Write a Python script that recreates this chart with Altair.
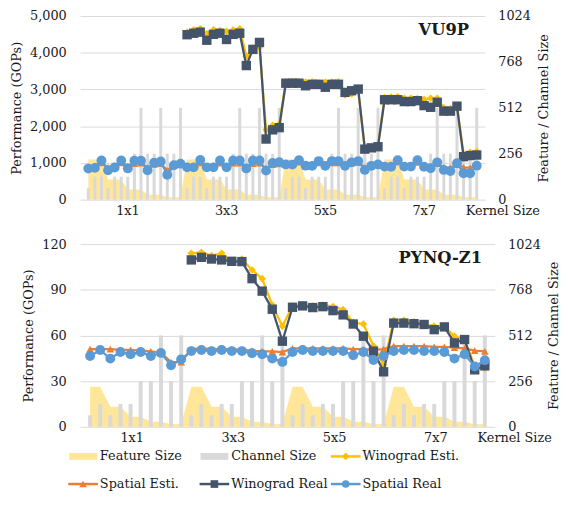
import altair as alt
import pandas as pd

kernel_labels = ["1x1", "3x3", "5x5", "7x7"]

# ---------------- VU9P (15 layers per kernel size) ----------------
vu9p_feature = [224, 224, 224, 112, 112, 112, 56, 56, 56, 28, 28, 28, 14, 14, 14,
                224, 224, 224, 112, 112, 112, 56, 56, 56, 28, 28, 28, 14, 14, 14,
                224, 224, 224, 112, 112, 112, 56, 56, 56, 28, 28, 28, 14, 14, 14,
                224, 224, 224, 112, 112, 112, 56, 56, 56, 28, 28, 28, 14, 14, 14]
vu9p_channel = [64, 128, 128, 64, 128, 128, 128, 256, 512, 256, 256, 512, 256, 256, 512,
                64, 128, 128, 64, 128, 128, 128, 256, 512, 256, 256, 512, 256, 256, 512,
                64, 128, 128, 64, 128, 128, 128, 256, 512, 256, 256, 512, 256, 256, 512,
                64, 128, 128, 64, 128, 128, 128, 256, 512, 256, 256, 512, 256, 256, 512]
vu9p_w_esti = [None, None, None, None, None, None, None, None, None, None, None, None, None, None, None,
               4560, 4620, 4650, 4520, 4620, 4600, 4580, 4620, 4650, 3900, 4130, 4150, 1900, 2020, 2060,
               3200, 3220, 3210, 3200, 3210, 3180, 3200, 3200, 3210, 2850, 2880, 2950, 1400, 1450, 1470,
               2780, 2790, 2800, 2760, 2760, 2750, 2730, 2760, 2760, 2500, 2480, 2520, 1250, 1290, 1310]
vu9p_s_esti = [900, 920, 1000, 880, 930, 1000, 920, 980, 990, 880, 960, 980, 800, 940, 960,
               920, 930, 1000, 920, 930, 990, 930, 990, 990, 900, 980, 990, 860, 950, 970,
               950, 950, 1020, 940, 940, 1000, 940, 1000, 1000, 930, 990, 1010, 880, 930, 960,
               920, 920, 1020, 920, 920, 1010, 920, 900, 980, 880, 870, 960, 880, 870, 920]
vu9p_w_real = [None, None, None, None, None, None, None, None, None, None, None, None, None, None, None,
               4490, 4530, 4560, 4340, 4500, 4530, 4360, 4500, 4530, 3650, 4090, 4280, 1650, 1900, 1960,
               3170, 3170, 3170, 3100, 3140, 3140, 3060, 3140, 3140, 2920, 2965, 3010, 1375, 1410, 1440,
               2720, 2720, 2720, 2670, 2670, 2695, 2560, 2515, 2650, 2410, 2410, 2545, 1170, 1200, 1215]
vu9p_s_real = [845, 865, 1065, 800, 875, 1065, 850, 1060, 1060, 800, 1005, 1040, 675, 935, 980,
               880, 880, 1080, 880, 880, 1065, 880, 1065, 1065, 850, 1065, 1065, 790, 1000, 1020,
               960, 955, 1075, 925, 920, 1050, 920, 1050, 1050, 920, 1015, 1050, 810, 920, 960,
               900, 895, 1075, 900, 900, 1075, 895, 855, 1015, 810, 780, 990, 720, 720, 925]

# ---------------- PYNQ-Z1 (10 layers per kernel size) ----------------
pynq_feature = [224, 224, 112, 112, 56, 56, 28, 28, 14, 14,
                224, 224, 112, 112, 56, 56, 28, 28, 14, 14,
                224, 224, 112, 112, 56, 56, 28, 28, 14, 14,
                224, 224, 112, 112, 56, 56, 28, 28, 14, 14]
pynq_channel = [64, 128, 64, 128, 128, 256, 256, 512, 256, 512,
                64, 128, 64, 128, 128, 256, 256, 512, 256, 512,
                64, 128, 64, 128, 128, 256, 256, 512, 256, 512,
                64, 128, 64, 128, 128, 256, 256, 512, 256, 512]
pynq_w_esti = [None, None, None, None, None, None, None, None, None, None,
               113.9, 114.6, 112.4, 113.9, 108.0, 110.2, 103.0, 97.3, 80.0, 66.0,
               79.4, 80.0, 79.4, 80.0, 79.0, 77.0, 68.6, 67.5, 53.0, 40.5,
               70.0, 70.0, 69.0, 67.7, 66.0, 66.0, 59.5, 57.0, 40.0, 38.5]
pynq_s_esti = [51, 51, 51, 50.5, 50.5, 50, 49.5, 48.5, 42.5, 42.5,
               51, 51.5, 51, 51, 51, 50.5, 50, 49.5, 49.5, 49,
               51.5, 51.5, 51.5, 51.5, 51.5, 51.5, 51, 51, 50.5, 51,
               53, 53, 53, 53, 52.5, 52.5, 52, 51.5, 50, 49.5]
pynq_w_real = [None, None, None, None, None, None, None, None, None, None,
               109.6, 111.3, 110.2, 109.6, 108.7, 108.5, 97.3, 89.1, 77.2, 56.2,
               78.5, 79.4, 78.3, 78.9, 76.3, 73.5, 67.5, 59.5, 49.7, 36.1,
               68.1, 68.1, 67.7, 67.2, 63.8, 65.6, 55.1, 57.3, 37.4, 40.0]
pynq_s_real = [46.5, 50.4, 44.8, 49.1, 47.6, 49.1, 46.5, 48.5, 40.4, 44.3,
               49.7, 50.4, 49.7, 50.4, 49.7, 49.7, 48.3, 47.6, 44.8, 42.6,
               49.1, 50.4, 49.7, 49.7, 49.7, 49.7, 47.0, 49.1, 43.9, 46.5,
               49.7, 50.4, 50.4, 49.7, 49.7, 49.1, 44.8, 47.6, 39.6, 43.7]

# ---------------- legend ----------------
legend_labels = ["Feature Size", "Channel Size", "Winograd Esti.", "Spatial Esti.", "Winograd Real", "Spatial Real"]
legend_col = [0, 1, 2, 0, 1, 2]
legend_row = [0, 0, 0, 1, 1, 1]
legend_kind = ["swatch", "swatch", "line", "line", "line", "line"]
legend_colors = ["#FFE699", "#D9D9D9", "#FFC000", "#ED7D31", "#44546A", "#5B9BD5"]
marker_labels = ["Winograd Esti.", "Spatial Esti.", "Winograd Real", "Spatial Real"]
marker_shapes = ["diamond", "triangle-up", "square", "circle"]

FONT = "DejaVu Serif"
TXT = "#1a1a1a"


def make_panel(feature, channel, w_esti, s_esti, w_real, s_real, name, name_x, name_y,
               width, height, perf_max, perf_step, label_off, kt_x, bar_size):
    n = len(feature)
    per = n // len(kernel_labels)
    df = pd.DataFrame({
        "idx": list(range(n)), "feature": feature, "channel": channel,
        "w_esti": w_esti, "s_esti": s_esti, "w_real": w_real, "s_real": s_real,
    })
    centers = [per * k + (per - 1) / 2 for k in range(len(kernel_labels))]
    label_expr = "[" + ",".join("'%s'" % l for l in kernel_labels) + "][floor(datum.value/%d)]" % per
    xscale = alt.Scale(domain=[-0.5, n - 0.5], nice=False, zero=False)
    xaxis = alt.Axis(values=centers, labelExpr=label_expr, domain=False, ticks=False, grid=False,
                     labelPadding=5, labelOffset=label_off, title="Kernel Size", titleX=kt_x,
                     titleY=5, titleAlign="left", titleBaseline="top")
    x = alt.X("idx:Q", scale=xscale, axis=xaxis)

    size_scale = alt.Scale(domain=[0, 1024], nice=False, zero=True)
    size_axis = alt.Axis(orient="right", values=[0, 256, 512, 768, 1024], format="d", domain=False,
                         ticks=False, grid=False, labelPadding=13, title="Feature / Channel Size",
                         titleAngle=270, titleAlign="center", titleBaseline="middle",
                         titleX=59, titleY=height / 2)
    perf_scale = alt.Scale(domain=[0, perf_max], nice=False, zero=True)
    perf_axis = alt.Axis(orient="left", values=list(range(0, perf_max + 1, perf_step)), format=",d",
                         domain=False, ticks=False, grid=True, gridColor="#D9D9D9", gridWidth=1,
                         labelPadding=14, title="Performance (GOPs)", titlePadding=6)

    base = alt.Chart(df)
    area = base.mark_area(color="#FFE699", opacity=1, interpolate="linear").encode(
        x=x, y=alt.Y("feature:Q", scale=size_scale, axis=size_axis))
    bars = base.mark_bar(color="#D9D9D9", size=bar_size).encode(
        x=x, y=alt.Y("channel:Q", scale=size_scale, axis=size_axis))

    series = [("w_esti", "#FFC000", "diamond", 60),
              ("s_esti", "#ED7D31", "triangle-up", 60),
              ("w_real", "#44546A", "square", 90),
              ("s_real", "#5B9BD5", "circle", 100)]
    perf_layers = []
    for col, color, shape, size in series:
        b = base.transform_filter("isValid(datum.%s)" % col)
        y = alt.Y("%s:Q" % col, scale=perf_scale, axis=perf_axis)
        perf_layers.append(b.mark_line(color=color, strokeWidth=2.3).encode(x=x, y=y))
        perf_layers.append(b.mark_point(shape=shape, filled=True, color=color, size=size,
                                        opacity=1).encode(x=x, y=y))
    tdf = pd.DataFrame({"x": [name_x], "y": [name_y], "label": [name]})
    title = alt.Chart(tdf).mark_text(font=FONT, fontWeight="bold", fontSize=16.5, color=TXT).encode(
        x=alt.X("x:Q", scale=xscale, axis=xaxis),
        y=alt.Y("y:Q", scale=perf_scale, axis=perf_axis),
        text="label:N")
    perf_layers.append(title)

    return alt.layer(alt.layer(area, bars), alt.layer(*perf_layers)).resolve_scale(
        y="independent").properties(width=width, height=height)


top = make_panel(vu9p_feature, vu9p_channel, vu9p_w_esti, vu9p_s_esti, vu9p_w_real, vu9p_s_real,
                 "VU9P", 54, 4620, 410, 186, 5000, 1000, -7, 390, 3)
bottom = make_panel(pynq_feature, pynq_channel, pynq_w_esti, pynq_s_esti, pynq_w_real, pynq_s_real,
                    "PYNQ-Z1", 34.6, 110.7, 420, 185, 120, 30, -4, 402, 4)

ldf = pd.DataFrame({"label": legend_labels, "col": legend_col, "row": legend_row, "kind": legend_kind})
lx = alt.X("col:Q", scale=alt.Scale(domain=[-0.0227, 2.985], nice=False, zero=False), axis=None)
ly = alt.Y("row:Q", scale=alt.Scale(domain=[0, 1], reverse=True, nice=False, zero=False), axis=None)
lcolor = alt.Color("label:N", scale=alt.Scale(domain=legend_labels, range=legend_colors), legend=None)
lbase = alt.Chart(ldf)
swatch = lbase.transform_filter("datum.kind == 'swatch'").mark_point(
    shape="M-1.4,-0.35H1.4V0.35H-1.4Z", filled=True, size=400, opacity=1).encode(x=lx, y=ly, color=lcolor)
lline = lbase.transform_filter("datum.kind == 'line'").mark_point(
    shape="M-1.5,0H1.5", filled=False, strokeWidth=2.5, size=400, opacity=1).encode(x=lx, y=ly, color=lcolor)
lmark = lbase.transform_filter("datum.kind == 'line'").mark_point(filled=True, size=60, opacity=1).encode(
    x=lx, y=ly, color=lcolor,
    shape=alt.Shape("label:N", scale=alt.Scale(domain=marker_labels, range=marker_shapes), legend=None))
ltext = lbase.mark_text(align="left", dx=17, font=FONT, fontSize=13, color=TXT).encode(
    x=lx, y=ly, text="label:N")
legend = alt.layer(swatch, lline, lmark, ltext).properties(width=400, height=28)

lower = alt.vconcat(bottom, legend, spacing=6)
chart = alt.concat(top, lower, columns=1, align="none", spacing=21).properties(
    padding={"left": 2, "top": -1, "right": 0, "bottom": 0}
).configure_view(stroke=None).configure_axis(
    labelFont=FONT, titleFont=FONT, labelFontSize=13, titleFontSize=13,
    titleFontWeight="normal", labelColor=TXT, titleColor=TXT)

chart.save("out.html", embed_options={"renderer": "svg", "actions": False})
